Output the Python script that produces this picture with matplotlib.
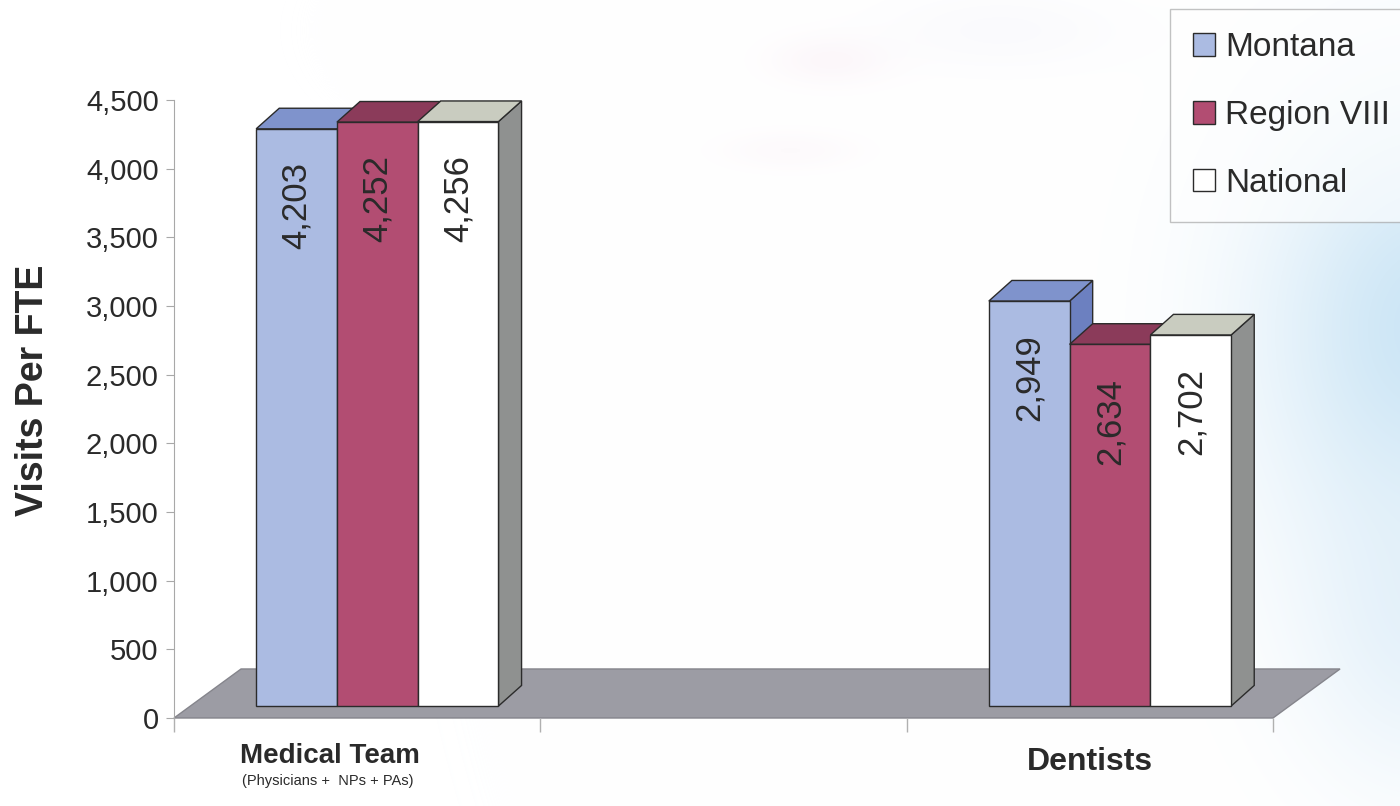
import matplotlib
matplotlib.use("Agg")
import matplotlib.pyplot as plt
import matplotlib.patches as mpatches
import numpy as np
from matplotlib.ticker import FuncFormatter

plt.rcParams["font.family"] = ["Liberation Sans", "DejaVu Sans"]

# data
categories = ["Medical Team", "Dentists"]
cat_sub = ["(Physicians +  NPs + PAs)", ""]
cat_pos = [0, 2]
series = ["Montana", "Region VIII", "National"]
montana = [4203, 2949]
region8 = [4252, 2634]
national = [4256, 2702]
values = [montana, region8, national]
yticks = [0, 500, 1000, 1500, 2000, 2500, 3000, 3500, 4000, 4500]

front_colors = ["#abbbe2", "#b24d72", "#ffffff"]
top_colors = ["#7f93cc", "#8b3b5a", "#c9ccc0"]
side_colors = ["#6c80c0", "#7a2d4c", "#8f9190"]
text_col = "#2a2a2a"
edge = "#2b2b2b"

# fake 3d geometry (data units)
bar_w = 0.2205
front_dx, front_dy = 0.055, 87
depth_dx, depth_dy = 0.063, 150
floor_dx, floor_dy = 0.183, 357

W, H = 1400, 806
fig = plt.figure(figsize=(W / 100, H / 100), dpi=100)

# soft background wash
bg = fig.add_axes([0, 0, 1, 1], zorder=-5)
yy, xx = np.mgrid[0:H, 0:W]
img = np.ones((H, W, 3))
def wash(cx, cy, sx, sy, col, amt):
    g = amt * np.exp(-(((xx - cx) / sx) ** 2 + ((yy - cy) / sy) ** 2))
    for c in range(3):
        img[:, :, c] = img[:, :, c] * (1 - g) + col[c] * g
wash(1430, 330, 170, 220, (0.78, 0.89, 0.96), 0.9)
wash(1420, 620, 120, 160, (0.85, 0.92, 0.97), 0.6)
wash(830, 60, 60, 25, (0.96, 0.88, 0.93), 0.25)
wash(790, 150, 70, 20, (0.96, 0.90, 0.94), 0.2)
wash(1000, 30, 120, 40, (0.93, 0.93, 0.97), 0.25)
bg.imshow(np.clip(img, 0, 1), aspect="auto", extent=[0, 1, 0, 1])
bg.axis("off")

ax = fig.add_axes([174 / W, (H - 718) / H, (1273 - 174) / W, 618 / H])
ax.set_facecolor("none")
ax.set_xlim(-0.5, 2.5)
ax.set_ylim(0, 4500)

# floor
floor = mpatches.Polygon([(-0.5, 0), (2.5, 0), (2.5 + floor_dx, floor_dy), (-0.5 + floor_dx, floor_dy)],
                         closed=True, facecolor="#9c9ca4", edgecolor="#85858c", lw=1, clip_on=False, zorder=1)
ax.add_patch(floor)

for ci, pos in enumerate(cat_pos):
    for si in range(len(series)):
        v = values[si][ci]
        x0 = pos - 1.5 * bar_w + si * bar_w + front_dx
        y0 = front_dy
        y1 = front_dy + v
        side = mpatches.Polygon([(x0 + bar_w, y0), (x0 + bar_w + depth_dx, y0 + depth_dy),
                                 (x0 + bar_w + depth_dx, y1 + depth_dy), (x0 + bar_w, y1)],
                                closed=True, facecolor=side_colors[si], edgecolor=edge, lw=1, clip_on=False, zorder=2)
        top = mpatches.Polygon([(x0, y1), (x0 + bar_w, y1), (x0 + bar_w + depth_dx, y1 + depth_dy),
                                (x0 + depth_dx, y1 + depth_dy)],
                               closed=True, facecolor=top_colors[si], edgecolor=edge, lw=1, clip_on=False, zorder=2)
        front = mpatches.Rectangle((x0, y0), bar_w, v, facecolor=front_colors[si], edgecolor=edge,
                                   lw=1, clip_on=False, zorder=2)
        ax.add_patch(side)
        ax.add_patch(top)
        ax.add_patch(front)
        ax.annotate(f"{v:,}", (x0 + bar_w / 2, y1), xytext=(0, -24), textcoords="offset points",
                    rotation=90, ha="center", va="top", fontsize=25, color=text_col, zorder=3)

# axes styling
for s in ["top", "right", "bottom"]:
    ax.spines[s].set_visible(False)
ax.spines["left"].set_color("#a8a8a8")
ax.set_yticks(yticks)
ax.yaxis.set_major_formatter(FuncFormatter(lambda v, p: f"{int(v):,}"))
ax.tick_params(axis="y", labelsize=21, colors="#a8a8a8", labelcolor=text_col, length=6, pad=5)
ax.set_xticks([-0.5, 0.5, 1.5, 2.5])
ax.set_xticklabels([])
ax.tick_params(axis="x", colors="#b0b0b0", length=10, width=1)

ax.set_ylabel("Visits Per FTE", fontsize=27, fontweight="bold", color=text_col)
ax.yaxis.set_label_coords(-0.112, 0.53)

# category labels
ax.text(cat_pos[0] - 0.075, -280, categories[0], ha="center", va="center", fontsize=20,
        fontweight="bold", color=text_col)
ax.text(cat_pos[0] - 0.08, -460, cat_sub[0], ha="center", va="center", fontsize=10.5, color=text_col)
ax.text(cat_pos[1], -320, categories[1], ha="center", va="center", fontsize=23,
        fontweight="bold", color=text_col)

handles = [mpatches.Patch(facecolor=front_colors[i], edgecolor=edge, label=series[i]) for i in range(3)]
leg = fig.legend(handles=handles, loc="upper left", bbox_to_anchor=(1170 / W, 1 - 9 / H), fontsize=24,
                 frameon=True, fancybox=False, edgecolor="#9a9a9a", framealpha=0.6,
                 handlelength=0.66, handleheight=0.66, handletextpad=0.3, labelspacing=1.1,
                 borderpad=0.7, borderaxespad=0)
for t in leg.get_texts():
    t.set_color(text_col)

fig.savefig("out.png", dpi=100)
